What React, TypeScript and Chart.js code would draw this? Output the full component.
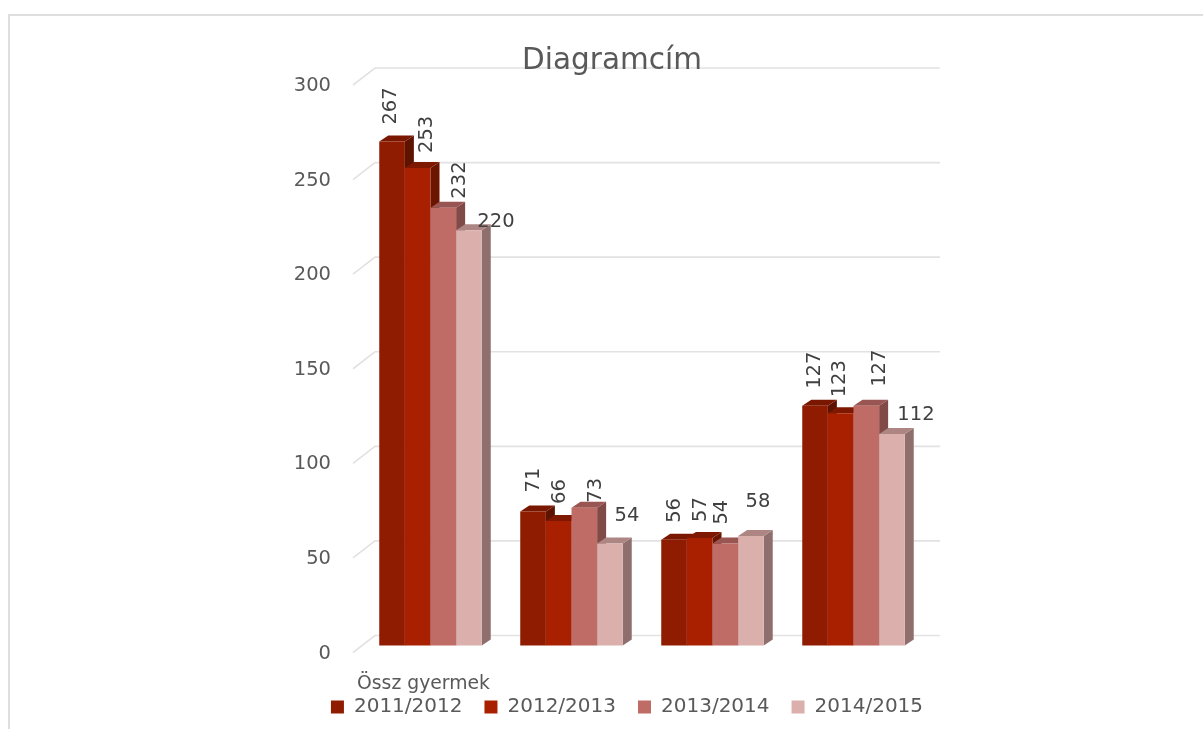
import React, { useEffect, useRef } from "react";
import { Chart, registerables } from "chart.js";

Chart.register(...registerables);

const categories = ["Össz gyermek", "", "", ""];
const series2011 = [267, 71, 56, 127];
const series2012 = [253, 66, 57, 123];
const series2013 = [232, 73, 54, 127];
const series2014 = [220, 54, 58, 112];
const seriesNames = ["2011/2012", "2012/2013", "2013/2014", "2014/2015"];
const titleText = "Diagramcím";

const FONT = "'DejaVu Sans'";
const TEXT = "#595959";
const GRID = "#e2e2e2";
const fronts = ["#8f1c00", "#a82000", "#bf6b66", "#dbafac"];
const tops = ["#7a1700", "#7f1800", "#985552", "#ad8683"];
const sides = ["#5e1300", "#6b1400", "#804a47", "#8f6f6d"];

// label placement relative to the bar's top centre, per series then category: [dx, gap above the top]
const labelNudges = [
  [[-1, 17], [1, 19], [1, 17], [0, 17]],
  [[9, 15], [1, 17], [1, 16], [-1, 16]],
  [[17, 9], [12, 5], [-3, 19], [14, 19]],
];
const horizontalNudges = [[27, 8], [17, 28], [7, 34], [24, 19]];

const DX = 9;
const DY = 6;
const BACK_DX = 22;
const BACK_DY = 17;
const BACK_EXT = 16;

const bars3d = {
  id: "bars3d",
  afterLayout(chart: any) {
    const t = chart.titleBlock;
    t.left -= 15;
    t.right -= 15;
    const l = chart.legend;
    const h = l.bottom - l.top;
    l.top = chart.chartArea.bottom + 21.5;
    l.bottom = l.top + h;
  },
  beforeDraw(chart: any) {
    const { ctx, scales } = chart;
    const y = scales.y;
    const x = scales.x;
    ctx.save();
    ctx.strokeStyle = GRID;
    ctx.lineWidth = 1.6;
    y.ticks.forEach((t: any) => {
      const py = y.getPixelForValue(t.value) - 1;
      ctx.beginPath();
      ctx.moveTo(x.left - 7, py);
      ctx.lineTo(x.left - 7 + BACK_DX, py - BACK_DY);
      ctx.lineTo(x.right + BACK_EXT, py - BACK_DY);
      ctx.stroke();
    });
    ctx.restore();
  },
  beforeDatasetDraw() {
    return false;
  },
  afterDatasetsDraw(chart: any) {
    const { ctx } = chart;
    chart.data.datasets.forEach((_: any, i: number) => {
      const meta = chart.getDatasetMeta(i);
      ctx.save();
      meta.data.forEach((b: any) => {
        const l = b.x - b.width / 2;
        const r = b.x + b.width / 2;
        ctx.fillStyle = sides[i];
        ctx.beginPath();
        ctx.moveTo(r, b.y);
        ctx.lineTo(r + DX, b.y - DY);
        ctx.lineTo(r + DX, b.base - DY);
        ctx.lineTo(r, b.base);
        ctx.closePath();
        ctx.fill();
        ctx.fillStyle = tops[i];
        ctx.beginPath();
        ctx.moveTo(l, b.y);
        ctx.lineTo(l + DX, b.y - DY);
        ctx.lineTo(r + DX, b.y - DY);
        ctx.lineTo(r, b.y);
        ctx.closePath();
        ctx.fill();
      });
      ctx.restore();
      meta.data.forEach((b: any) => b.draw(ctx));
    });

    ctx.save();
    ctx.fillStyle = "#404040";
    ctx.font = `19.5px ${FONT}`;
    ctx.textAlign = "center";
    ctx.textBaseline = "middle";
    chart.data.datasets.forEach((ds: any, i: number) => {
      chart.getDatasetMeta(i).data.forEach((b: any, j: number) => {
        const text = String(ds.data[j]);
        if (i === 3) {
          const [dx, dy] = horizontalNudges[j];
          ctx.fillText(text, b.x + dx, b.y - dy);
        } else {
          const [dx, gap] = labelNudges[i][j];
          const half = ctx.measureText(text).width / 2;
          ctx.save();
          ctx.translate(b.x + dx, b.y - gap - half);
          ctx.rotate(-Math.PI / 2);
          ctx.fillText(text, 0, 0);
          ctx.restore();
        }
      });
    });
    ctx.restore();
  },
};

export default function App() {
  const ref = useRef<HTMLCanvasElement>(null);
  useEffect(() => {
    const all = [series2011, series2012, series2013, series2014];
    const chart = new Chart(ref.current!, {
      type: "bar",
      data: {
        labels: categories,
        datasets: all.map((data, i) => ({
          label: seriesNames[i],
          data,
          backgroundColor: fronts[i],
          yAxisID: "yBars",
          categoryPercentage: 0.727,
          barPercentage: 1,
        })),
      },
      plugins: [bars3d],
      options: {
        animation: false,
        responsive: false,
        maintainAspectRatio: false,
        layout: { padding: { left: 293, right: 242, top: 0, bottom: -21.5 } },
        plugins: {
          tooltip: { enabled: false },
          title: {
            display: true,
            text: titleText,
            color: TEXT,
            font: { family: FONT, size: 29.5, weight: "normal" },
            padding: { top: 44, bottom: 6.6 },
          },
          legend: {
            position: "bottom",
            labels: {
              color: TEXT,
              font: { family: FONT, size: 20 },
              boxWidth: 13,
              boxHeight: 13,
              padding: 22,
            },
          },
        },
        scales: {
          x: {
            grid: { display: false, drawTicks: false },
            border: { display: false },
            ticks: {
              color: TEXT,
              font: { family: FONT, size: 18.8 },
              padding: 19,
              labelOffset: -7,
              maxRotation: 0,
              autoSkip: false,
            },
            afterFit: (s: any) => { s.height = 45; },
          },
          y: {
            min: 0,
            max: 300,
            grid: { display: false, drawTicks: false },
            border: { display: false },
            ticks: {
              stepSize: 50,
              color: TEXT,
              font: { family: FONT, size: 19.5 },
              padding: 29,
            },
            afterFit: (s: any) => { s.width = 67; },
          },
          yBars: {
            position: "right",
            min: -4.24,
            max: 296.46,
            grid: { display: false, drawTicks: false },
            border: { display: false },
            ticks: { display: false },
            afterFit: (s: any) => { s.width = 37; },
          },
        },
      },
    } as any);
    return () => chart.destroy();
  }, []);
  return (
    <div style={{ position: "fixed", left: 0, top: 0, width: 1203, height: 729, background: "#fff", overflow: "hidden" }}>
      <div style={{ position: "absolute", left: 8, top: 14, right: 0, bottom: 0, borderTop: "2px solid #dedede", borderLeft: "2px solid #dedede" }} />
      <canvas ref={ref} width={1203} height={729} style={{ position: "absolute", left: 0, top: 0, filter: "blur(0.4px)" }} />
    </div>
  );
}
